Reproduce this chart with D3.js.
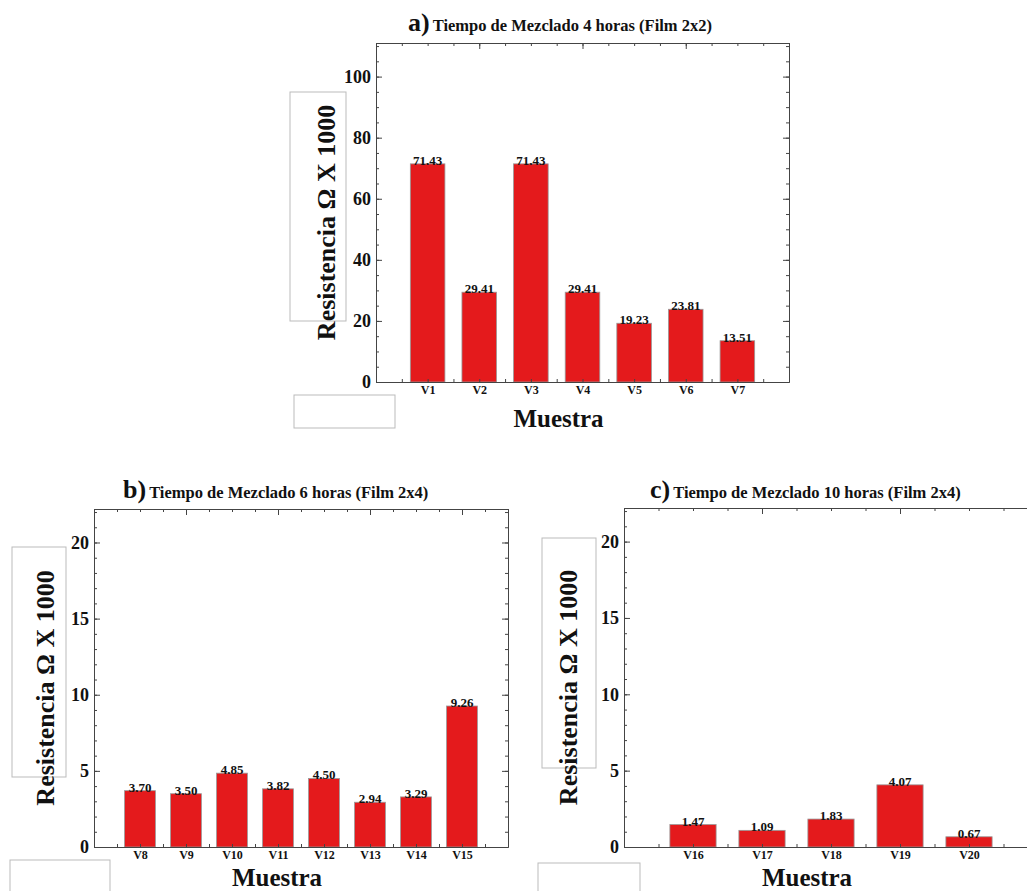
<!DOCTYPE html>
<html>
<head>
<meta charset="utf-8">
<script src="https://cdn.jsdelivr.net/npm/d3@7"></script>
<style>
  body { margin: 0; background: #fff; }
  svg { display: block; }
  text { font-family: "Liberation Serif", "Times New Roman", serif; font-weight: bold; fill: #111; }
</style>
</head>
<body>
<script>
// data
const samplesA = ["V1", "V2", "V3", "V4", "V5", "V6", "V7"];
const valuesA = [71.43, 29.41, 71.43, 29.41, 19.23, 23.81, 13.51];
const samplesB = ["V8", "V9", "V10", "V11", "V12", "V13", "V14", "V15"];
const valuesB = [3.70, 3.50, 4.85, 3.82, 4.50, 2.94, 3.29, 9.26];
const samplesC = ["V16", "V17", "V18", "V19", "V20"];
const valuesC = [1.47, 1.09, 1.83, 4.07, 0.67];

const yTicksA = [0, 20, 40, 60, 80, 100];
const yTicksBC = [0, 5, 10, 15, 20];

const titleLetters = ["a)", "b)", "c)"];
const titles = [
  "Tiempo de Mezclado 4 horas (Film 2x2)",
  "Tiempo de Mezclado 6 horas (Film 2x4)",
  "Tiempo de Mezclado 10 horas (Film 2x4)"
];
const yLabel = "Resistencia \u03A9 X 1000";
const xLabel = "Muestra";

// layout of the three panels (page pixels)
const panels = [
  { samples: samplesA, values: valuesA, ticks: yTicksA, minorStep: 5, ymax: 111,
    left: 376, right: 789, top: 43, bottom: 382, titleDx: 32, titleY: 31,
    labelX: 326, xLabelY: 427,
    labelBox: [290, 92, 56, 229], footBox: [294, 395, 101, 33] },
  { samples: samplesB, values: valuesB, ticks: yTicksBC, minorStep: 1, ymax: 22.2,
    left: 94, right: 508, top: 509, bottom: 847, titleDx: 29, titleY: 498,
    labelX: 45, xLabelY: 886,
    labelBox: [12, 547, 54, 230], footBox: [10, 860, 100, 40] },
  { samples: samplesC, values: valuesC, ticks: yTicksBC, minorStep: 1, ymax: 22.2,
    left: 624, right: 1038, top: 508, bottom: 847, titleDx: 26, titleY: 498,
    labelX: 568, xLabelY: 886,
    labelBox: [542, 538, 54, 230], footBox: [538, 863, 102, 40] }
];

const W = 1027, H = 891;
const barColor = "#e41a1c";
const axisColor = "#444";

const svg = d3.select("body").append("svg")
    .attr("width", W)
    .attr("height", H);

panels.forEach((p, k) => drawPanel(p, k));

function drawPanel(p, k) {
  const n = p.samples.length;
  const x = d3.scaleLinear().domain([0, n + 1]).range([p.left, p.right]);
  const y = d3.scaleLinear().domain([0, p.ymax]).range([p.bottom, p.top]);
  const g = svg.append("g");

  // empty boxes left over in the original figure
  [p.labelBox, p.footBox].forEach(b => {
    g.append("rect")
      .attr("x", b[0]).attr("y", b[1])
      .attr("width", b[2]).attr("height", b[3])
      .attr("fill", "none")
      .attr("stroke", "#bbb")
      .attr("stroke-width", 1);
  });

  // bars
  const bw = 0.67;
  g.selectAll("rect.bar")
    .data(p.values)
    .join("rect")
      .attr("class", "bar")
      .attr("x", (d, i) => x(i + 1 - bw / 2))
      .attr("width", x(bw) - x(0))
      .attr("y", d => y(d))
      .attr("height", d => y(0) - y(d))
      .attr("fill", barColor)
      .attr("stroke", "#999")
      .attr("stroke-width", 0.8);

  // value labels
  g.selectAll("text.val")
    .data(p.values)
    .join("text")
      .attr("class", "val")
      .attr("x", (d, i) => x(i + 1))
      .attr("y", d => y(d) + 1)
      .attr("text-anchor", "middle")
      .style("font-size", "13px")
      .text(d => d.toFixed(2));

  // minor / major tick values
  const ymin = d3.range(0, p.ymax, p.minorStep);
  const xhalf = d3.range(0, n + 1.01, 0.5);
  const xmajor = xhalf.filter(v => v % 2 === 0);

  const styleAxis = sel => {
    sel.select(".domain").attr("stroke", axisColor);
    sel.selectAll(".tick line").attr("stroke", axisColor);
  };

  // left axis
  g.append("g").attr("transform", `translate(${p.left},0)`)
    .call(d3.axisLeft(y).tickValues(ymin).tickSize(-3).tickFormat(""))
    .call(styleAxis);
  g.append("g").attr("transform", `translate(${p.left},0)`)
    .call(d3.axisLeft(y).tickValues(p.ticks).tickSize(-6).tickPadding(5).tickSizeOuter(0))
    .call(styleAxis)
    .call(a => a.selectAll(".tick text")
      .style("font-size", "18px")
      .style("font-family", "Liberation Serif, serif")
      .style("font-weight", "bold")
      .attr("fill", "#111"));

  // right axis
  g.append("g").attr("transform", `translate(${p.right},0)`)
    .call(d3.axisRight(y).tickValues(ymin).tickSize(-3).tickFormat("").tickSizeOuter(0))
    .call(styleAxis);
  g.append("g").attr("transform", `translate(${p.right},0)`)
    .call(d3.axisRight(y).tickValues(p.ticks).tickSize(-6).tickFormat("").tickSizeOuter(0))
    .call(styleAxis);

  // top axis
  g.append("g").attr("transform", `translate(0,${p.top})`)
    .call(d3.axisTop(x).tickValues(xhalf).tickSize(-3).tickFormat("").tickSizeOuter(0))
    .call(styleAxis);
  g.append("g").attr("transform", `translate(0,${p.top})`)
    .call(d3.axisTop(x).tickValues(xmajor).tickSize(-6).tickFormat("").tickSizeOuter(0))
    .call(styleAxis);

  // bottom axis
  g.append("g").attr("transform", `translate(0,${p.bottom})`)
    .call(d3.axisBottom(x).tickValues(xhalf).tickSize(-3).tickFormat("").tickSizeOuter(0))
    .call(styleAxis);
  g.append("g").attr("transform", `translate(0,${p.bottom})`)
    .call(d3.axisBottom(x).tickValues(d3.range(1, n + 1)).tickSize(0).tickPadding(3)
      .tickFormat(v => p.samples[v - 1]).tickSizeOuter(0))
    .call(a => a.select(".domain").remove())
    .call(a => a.selectAll(".tick text")
      .style("font-size", "12px")
      .style("font-family", "Liberation Serif, serif")
      .style("font-weight", "bold")
      .attr("fill", "#111"));

  // title
  const t = g.append("text")
    .attr("x", p.left + p.titleDx)
    .attr("y", p.titleY);
  t.append("tspan").style("font-size", "26px").text(titleLetters[k]);
  t.append("tspan").attr("dx", 3).style("font-size", "16.5px").text(titles[k]);

  // axis labels
  g.append("text")
    .attr("transform", `translate(${p.labelX},${(p.top + p.bottom) / 2 + 10}) rotate(-90)`)
    .attr("dy", "0.35em")
    .attr("text-anchor", "middle")
    .style("font-size", "26px")
    .text(yLabel);

  g.append("text")
    .attr("x", (p.left + p.right) / 2 - 24)
    .attr("y", p.xLabelY)
    .attr("text-anchor", "middle")
    .style("font-size", "25px")
    .text(xLabel);
}
</script>
</body>
</html>
